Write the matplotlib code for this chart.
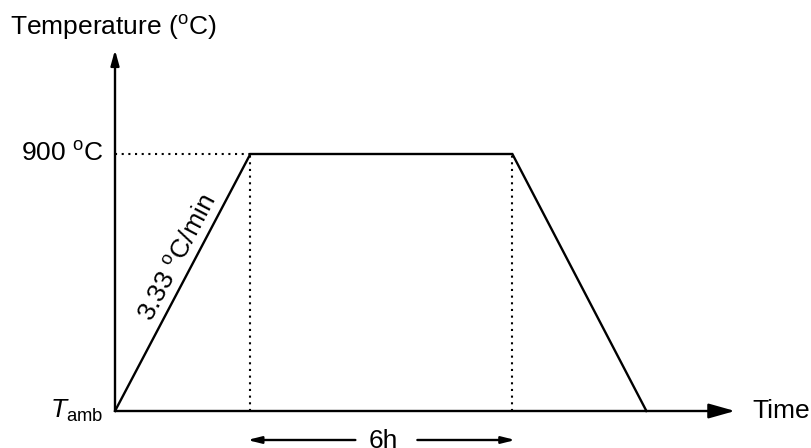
import matplotlib.pyplot as plt

plt.rcParams['font.family'] = ['Liberation Sans', 'DejaVu Sans']
plt.rcParams['mathtext.fontset'] = 'custom'
plt.rcParams['mathtext.rm'] = 'Liberation Sans'
plt.rcParams['mathtext.it'] = 'Liberation Sans:italic'

# heating profile (time in h, not to scale on the ramps)
time = [0, 3.1, 9.1, 12.17]
temp = [0, 900, 900, 0]
t_hold0, t_hold1 = 3.1, 9.1
t_max = 900

fig = plt.figure(figsize=(8.11, 4.48), dpi=100)
W, H = 811, 448
x0, y0 = 115, 411
px_per_h = (512 - 250) / 6.0
px_per_deg = (411 - 154) / 900.0
xmax = (735 - x0) / px_per_h
ymax = (411 - 50) / px_per_deg
ax = fig.add_axes([x0 / W, (H - y0) / H, (735 - x0) / W, (y0 - 50) / H])
ax.set_xlim(0, xmax)
ax.set_ylim(0, ymax)
ax.axis('off')

# axes arrows
ax.annotate('', xy=(xmax, 0), xytext=(0, 0), annotation_clip=False,
            arrowprops=dict(arrowstyle='-|>,head_length=1.6,head_width=0.45', lw=1.7, color='black',
                            shrinkA=0, shrinkB=0))
ax.annotate('', xy=(0, ymax), xytext=(0, 0), annotation_clip=False,
            arrowprops=dict(arrowstyle='-|>,head_length=0.9,head_width=0.25', lw=1.7, color='black',
                            shrinkA=0, shrinkB=0))

ax.plot(time, temp, color='black', lw=1.7, solid_joinstyle='miter', clip_on=False)
ax.plot([0, t_hold0], [t_max, t_max], color='black', lw=1.5, ls=(0, (1, 2.2)))
ax.plot([t_hold0, t_hold0], [0, t_max], color='black', lw=1.5, ls=(0, (1, 2.2)))
ax.plot([t_hold1, t_hold1], [0, t_max], color='black', lw=1.5, ls=(0, (1, 2.2)))

fs = 19
deg = '$^{\\rm o}$'
ax.text(-105 / px_per_h, ymax + 23 / px_per_deg, 'Temperature (' + deg + 'C)', fontsize=fs,
        ha='left', va='center')
ax.text(-11 / px_per_h, t_max, '900 ' + deg + 'C', fontsize=fs, ha='right', va='center')
ax.text(-12 / px_per_h, 0, '$T_{\\rm amb}$', fontsize=fs, ha='right', va='center')
ax.text(xmax + 17 / px_per_h, 0, 'Time', fontsize=fs, ha='left', va='center')

# ramp rate label along the heating line
ang = 62.3
ax.text((178 - x0) / px_per_h, (y0 - 258) / px_per_deg, '3.33 ' + deg + 'C/min', fontsize=fs,
        rotation=ang, rotation_mode='anchor', ha='center', va='center')

# 6h duration arrows
ya = -29 / px_per_deg
ax.annotate('', xy=(t_hold0 - 3 / px_per_h, ya), xytext=(t_hold0 + 105 / px_per_h, ya),
            annotation_clip=False,
            arrowprops=dict(arrowstyle='-|>,head_length=0.8,head_width=0.2', lw=1.7, color='black',
                            shrinkA=0, shrinkB=0))
ax.annotate('', xy=(t_hold1 + 3 / px_per_h, ya), xytext=(t_hold1 - 95 / px_per_h, ya),
            annotation_clip=False,
            arrowprops=dict(arrowstyle='-|>,head_length=0.8,head_width=0.2', lw=1.7, color='black',
                            shrinkA=0, shrinkB=0))
ax.text((383 - x0) / px_per_h, ya - 1 / px_per_deg, '6h', fontsize=fs, ha='center', va='center')

fig.savefig('out.png', dpi=100)
